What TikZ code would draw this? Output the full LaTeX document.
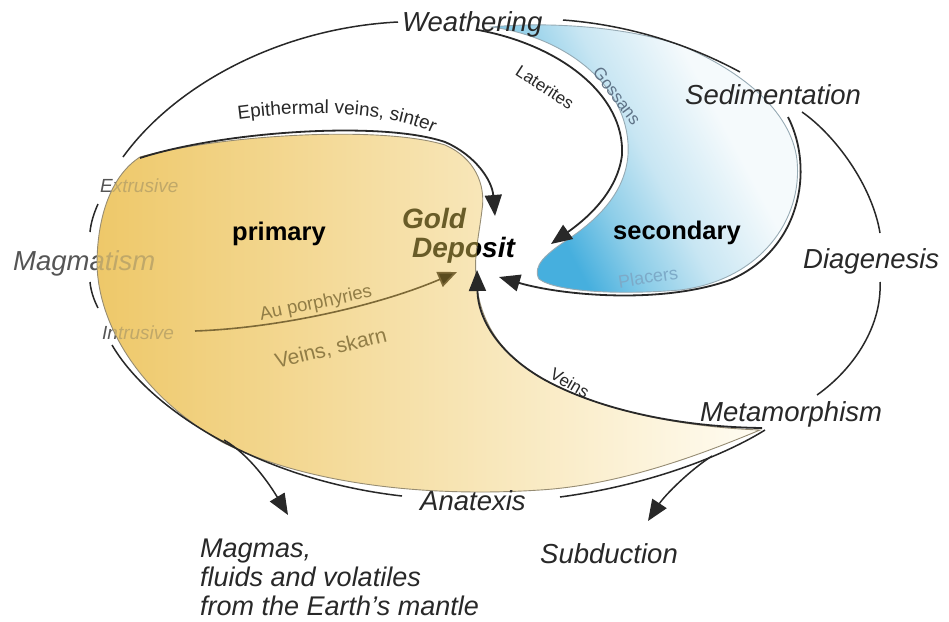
\documentclass[tikz,border=0pt]{standalone}
\usepackage{fontspec}
\setmainfont{Liberation Sans}
\usetikzlibrary{arrows.meta,decorations.text}
\definecolor{ink}{RGB}{40,40,40}
\definecolor{greytxt}{RGB}{85,85,85}
\definecolor{tan}{RGB}{192,168,105}
\definecolor{golden}{RGB}{105,92,40}
\definecolor{brownline}{RGB}{125,105,55}
\definecolor{brownhead}{RGB}{90,75,30}
\definecolor{browntxt}{RGB}{145,125,70}
\definecolor{yelD}{RGB}{238,200,105}
\definecolor{yelL}{RGB}{255,252,242}
\definecolor{yedge}{RGB}{150,140,115}
\definecolor{bluD}{RGB}{70,175,222}
\definecolor{bluA}{RGB}{140,205,232}
\definecolor{bluM}{RGB}{200,230,243}
\definecolor{bluL}{RGB}{245,250,252}
\definecolor{bedge}{RGB}{150,170,180}
\definecolor{gostxt}{RGB}{95,115,135}
\definecolor{platxt}{RGB}{125,170,200}
\pgfdeclareverticalshading{bluesh}{100bp}{color(0bp)=(bluD); color(31bp)=(bluD); color(40bp)=(bluA); color(50bp)=(bluM); color(64bp)=(bluL); color(100bp)=(bluL)}
\newcommand{\setfsz}[1]{\fontsize{#1}{#1}\selectfont}
\begin{document}
\begin{tikzpicture}[x=1pt,y=-1pt,
  big/.style={font=\setfsz{27.5}\itshape, text=ink, inner sep=0pt, anchor=base west},
  smalltxt/.style={font=\setfsz{17}, inner sep=0pt},
  bold/.style={font=\setfsz{25.5}\bfseries, text=black, inner sep=0pt, anchor=base west},
  gd/.style={font=\setfsz{28}\bfseries\itshape, inner sep=0pt, anchor=base west},
  arcline/.style={draw=ink, line width=1.5pt},
  blackarrow/.style={draw=ink, line width=1.8pt, -{Triangle[length=21pt,width=17pt]}},
]
\useasboundingbox (0,0) rectangle (949,621);
\fill[white] (0,0) rectangle (949,621);

\def\ypath{(140,157) .. controls (220,135) and (380,125) .. (445,145) .. controls (475,158) and (486,185) .. (482,210) .. controls (479,235) and (474,255) .. (476,276) .. controls (478,320) and (500,355) .. (545,380) .. controls (600,410) and (680,427) .. (760,430) .. controls (700,455) and (620,485) .. (540,490) .. controls (420,498) and (300,482) .. (222,442) .. controls (145,398) and (99,330) .. (97,265) .. controls (97,215) and (112,175) .. (140,157) -- cycle}

% labels lying under the yellow area (first layer)
\node[big, text=greytxt] (magm) at (13,270) {Magmatism};
\node[smalltxt, font=\setfsz{19}\itshape, text=greytxt, anchor=base west] (extr) at (100,192) {Extrusive};
\node[smalltxt, font=\setfsz{19}\itshape, text=greytxt, anchor=base west] (intr) at (102,339) {Intrusive};
\node[gd, text=black] (gold) at (402,228) {Gold};
\node[gd, text=black] (depo) at (412,257) {Deposit};

% yellow region
\shade[left color=yelD, right color=yelL] \ypath;
\draw[yedge, line width=0.9pt] \ypath;
\begin{scope}
  \clip \ypath;
  \node[big, text=tan] (magmY) at (13,270) {Magmatism};
  \node[smalltxt, font=\setfsz{19}\itshape, text=tan, anchor=base west] (extrY) at (100,192) {Extrusive};
  \node[smalltxt, font=\setfsz{19}\itshape, text=tan, anchor=base west] (intrY) at (102,339) {Intrusive};
  \node[gd, text=golden] (goldY) at (402,228) {Gold};
  \node[gd, text=golden] (depoY) at (412,257) {Deposit};
\end{scope}

% blue region
\def\bpath{(492,27) .. controls (570,38) and (632,90) .. (628,155) .. controls (625,195) and (594,222) .. (567,240) .. controls (546,254) and (532,266) .. (539,279) .. controls (556,292) and (620,295) .. (680,290) .. controls (760,280) and (803,220) .. (797,160) .. controls (791,110) and (740,70) .. (680,45) .. controls (620,25) and (540,22) .. (492,27) -- cycle}
\shade[shading=bluesh, shading angle=-62] \bpath;
\draw[bedge, line width=0.9pt] \bpath;

% main labels
\node[big] (weath) at (402,31) {Weathering};
\node[big] (sedi) at (685,104) {Sedimentation};
\node[big] (diag) at (803,268) {Diagenesis};
\node[big] (meta) at (700,421) {Metamorphism};
\node[big] (anat) at (420,510) {Anatexis};
\node[big] (subd) at (540,563) {Subduction};
\node[big, font=\setfsz{27}\itshape] (mant) at (200,557) {Magmas,};
\node[big, font=\setfsz{27}\itshape] (mant2) at (200,586) {fluids and volatiles};
\node[big, font=\setfsz{27}\itshape] (mant3) at (200,615) {from the Earth's mantle};
\node[bold] (prim) at (232,240) {primary};
\node[bold] (seco) at (613,239) {secondary};

% coordinates for connector ends
\coordinate (a1s) at (123,157);  \coordinate (a1e) at (398,22);
\coordinate (a2s) at (563,20);   \coordinate (a2e) at (740,72);
\coordinate (a3s) at (802,112);  \coordinate (a3e) at (880,233);
\coordinate (a4s) at (880,282);  \coordinate (a4e) at (817,395);
\coordinate (a5s) at (765,430);  \coordinate (a5e) at (560,497);
\coordinate (a6s) at (402,496);  \coordinate (a6e) at (112,345);
\coordinate (epis) at (140,158); \coordinate (epie) at (495,216);
\coordinate (goss) at (478,30);  \coordinate (gose) at (551,244);
\coordinate (plas) at (788,117); \coordinate (plae) at (499,277);
\coordinate (veis) at (762,428); \coordinate (veie) at (477,270);
\coordinate (aus) at (195,331);  \coordinate (aue) at (457,272);
\coordinate (mags) at (224,440); \coordinate (mage) at (288,515);
\coordinate (subs) at (712,456); \coordinate (sube) at (648,521);

% outer cycle
\draw[arcline] (a1s) .. controls (175,85) and (280,28) .. (a1e);
\draw[arcline] (a2s) .. controls (630,25) and (690,45) .. (a2e);
\draw[arcline] (a3s) .. controls (835,135) and (872,185) .. (a3e);
\draw[arcline] (a4s) .. controls (882,325) and (855,368) .. (a4e);
\draw[arcline] (a5s) .. controls (725,455) and (650,485) .. (a5e);
\draw[arcline] (a6s) .. controls (260,480) and (150,410) .. (a6e);
\draw[arcline] (98,204) .. controls (94,213) and (91,222) .. (90,232);
\draw[arcline] (90,282) .. controls (91,292) and (94,300) .. (98,308);

% arrows into the deposit
\draw[blackarrow] (epis) .. controls (220,132) and (380,120) .. (445,142) .. controls (475,155) and (492,180) .. (epie);
\draw[blackarrow] (goss) .. controls (560,45) and (625,95) .. (622,155) .. controls (617,195) and (582,222) .. (gose);
\draw[blackarrow] (plas) .. controls (815,170) and (800,250) .. (730,280) .. controls (660,305) and (560,295) .. (plae);
\draw[blackarrow] (veis) .. controls (680,427) and (600,410) .. (545,380) .. controls (500,355) and (478,320) .. (veie);
\draw[brownline, line width=1.6pt, -{Triangle[length=19pt,width=16pt,fill=brownhead]}] (aus) .. controls (280,328) and (380,305) .. (aue);
\draw[blackarrow, line width=1.5pt] (mags) .. controls (250,455) and (270,485) .. (mage);
\draw[blackarrow, line width=1.5pt] (subs) .. controls (690,470) and (665,495) .. (sube);

% small labels
\path[decorate, decoration={text along path, text align=center,
  text={|\setfsz{19}\color{ink}|Epithermal veins, sinter}}]
  (226,121) .. controls (300,110) and (394,108) .. (444,139);
\node[smalltxt, text=ink, rotate=-33] (late) at (545,87) {Laterites};
\node[smalltxt, text=gostxt, rotate=-53] (gosl) at (617,96) {Gossans};
\node[smalltxt, font=\setfsz{18}, text=platxt, rotate=9] (plac) at (648,277) {Placers};
\node[smalltxt, text=ink, rotate=-30] (vein) at (570,383) {Veins};
\node[smalltxt, font=\setfsz{18.5}, text=browntxt, rotate=12] (aupo) at (316,304) {Au porphyries};
\node[smalltxt, font=\setfsz{21}, text=browntxt, rotate=14] (vesk) at (331,349) {Veins, skarn};
\end{tikzpicture}
\end{document}
